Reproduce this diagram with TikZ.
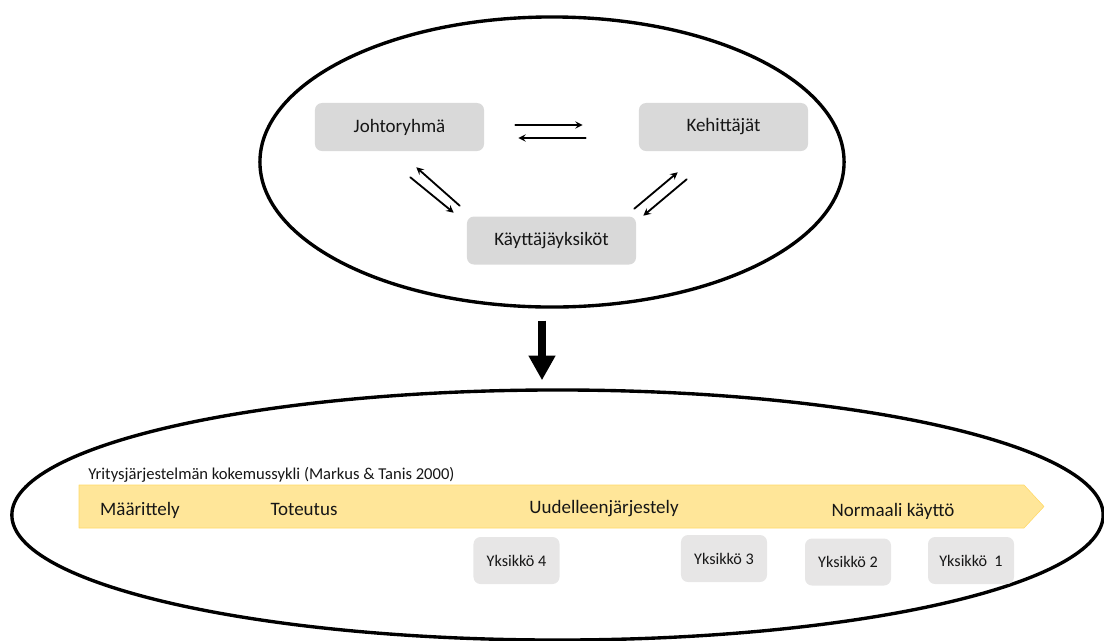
\documentclass[tikz,border=0pt]{standalone}
\usepackage{fontspec}
\setmainfont{Carlito}
\usetikzlibrary{shapes.geometric,arrows.meta}
\definecolor{boxgray}{HTML}{D9D9D9}
\definecolor{unitgray}{HTML}{E7E6E6}
\definecolor{phaseyellow}{HTML}{FFE699}
\definecolor{phaseedge}{HTML}{FFD966}
\definecolor{textgray}{HTML}{161616}
\begin{document}
\begin{tikzpicture}[x=0.025cm,y=-0.025cm,line join=round,line cap=round,>=stealth]
	\tikzset{every node/.style={text=textgray},
		group/.style={rectangle,rounded corners=5pt,fill=boxgray,minimum width=4.225cm,minimum height=1.2cm,inner sep=0pt,font=\fontsize{13.5}{16}\selectfont},
		unit/.style={rectangle,rounded corners=5pt,fill=unitgray,minimum width=2.15cm,minimum height=1.175cm,inner sep=0pt,font=\fontsize{11.5}{14}\selectfont},
		phase/.style={anchor=base,inner sep=0pt,font=\fontsize{13.5}{16}\selectfont},
		ring/.style={ellipse,draw=black,line width=2.4pt,inner sep=0pt},
		flow/.style={->,line width=1.3pt}}
	\useasboundingbox (0,0) rectangle (1104,640);
	% upper ellipse
	\node[ring,minimum width=14.6cm,minimum height=7.25cm] (top) at (552,162) {};
	\node[group] (johto) at (399.5,127) {Johtoryhmä};
	\node[group] (kehit) at (723.5,127) {Kehittäjät};
	\node[group] (kayt) at (551.5,240.5) {Käyttäjäyksiköt};
	\draw[flow] ([shift={(31,-2)}]johto.east) -- ([shift={(-56,-2)}]kehit.west);
	\draw[flow] ([shift={(-53,11)}]kehit.west) -- ([shift={(34,11)}]johto.east);
	\draw[flow] ([shift={(-7,-10.5)}]kayt.north west) -- ([shift={(-68,16)}]johto.south east);
	\draw[flow] ([shift={(-74,26)}]johto.south east) -- ([shift={(-13,-3.5)}]kayt.north west);
	\draw[flow] ([shift={(-2,-7.5)}]kayt.north east) -- ([shift={(39,21)}]kehit.south west);
	\draw[flow] ([shift={(48,28)}]kehit.south west) -- ([shift={(7,-0.5)}]kayt.north east);
	% lower ellipse
	\node[ring,minimum width=27.275cm,minimum height=6.25cm] (bottom) at (557.5,515) {};
	\draw[line width=5.7pt,line cap=butt,-{Triangle[width=18pt,length=17.5pt]}] ([shift={(-10,12)}]top.south) -- ([shift={(-15.5,-8)}]bottom.north);
	\node[anchor=base west,inner sep=0pt,font=\fontsize{11.8}{14}\selectfont] (cycle) at (88,479) {Yritysjärjestelmän kokemussykli (Markus \& Tanis 2000)};
	\filldraw[fill=phaseyellow,draw=phaseedge,line width=0.4pt] (79,485) -- (1024,485) -- (1044,506.5) -- (1024,528) -- (79,528) -- cycle;
	\node[phase] (maar) at (140,515) {Määrittely};
	\node[phase] (tot) at (304,515) {Toteutus};
	\node[phase] (uud) at (604,513) {Uudelleenjärjestely};
	\node[phase] (norm) at (893,516) {Normaali käyttö};
	\node[unit] (u4) at (516.5,560.5) {Yksikkö 4};
	\node[unit] (u3) at (724,558.5) {Yksikkö 3};
	\node[unit] (u2) at (848,562) {Yksikkö 2};
	\node[unit] (u1) at (971,560.5) {Yksikkö~ 1};
\end{tikzpicture}
\end{document}
